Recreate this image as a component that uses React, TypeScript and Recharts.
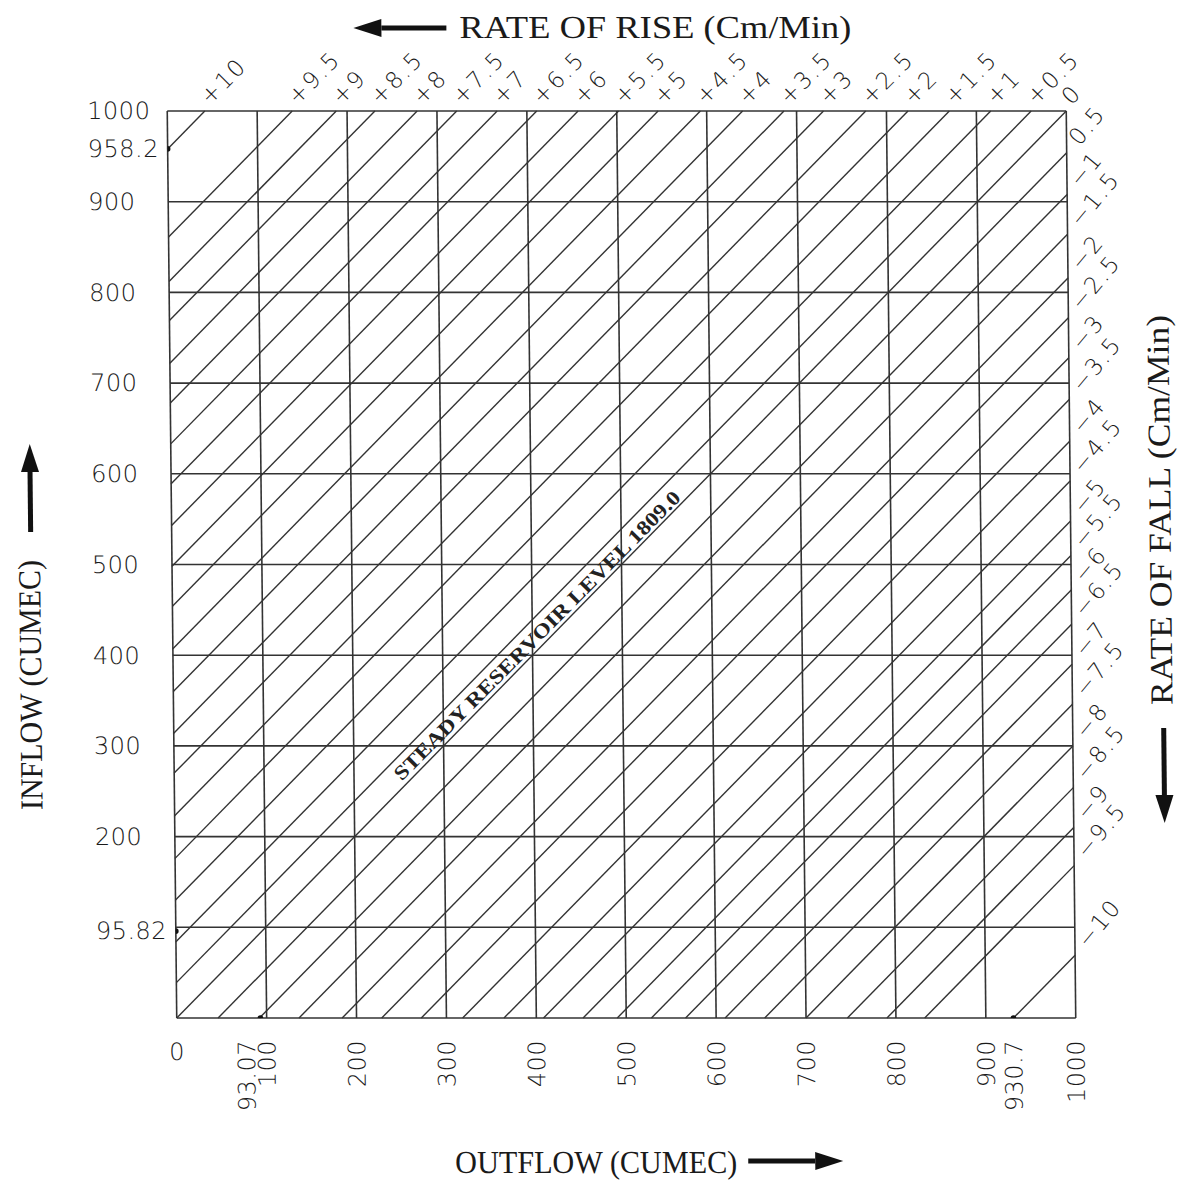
import React from 'react';
import {
  ComposedChart,
  XAxis,
  YAxis,
  ReferenceLine,
  ReferenceDot,
  Scatter,
  Customized,
} from 'recharts';

// ---- data ----
const xTicks = [0, 93.07, 100, 200, 300, 400, 500, 600, 700, 800, 900, 930.7, 1000];
const yTicks = [95.82, 200, 300, 400, 500, 600, 700, 800, 900, 958.2, 1000];
const gridValues = [0, 100, 200, 300, 400, 500, 600, 700, 800, 900, 1000];

// rate of rise lines: inflow - outflow = intercept (cumec)
const riseLabels = ['0', '+0.5', '+1', '+1.5', '+2', '+2.5', '+3', '+3.5', '+4', '+4.5', '+5', '+5.5', '+6', '+6.5', '+7', '+7.5', '+8', '+8.5', '+9', '+9.5', '+10'];
const riseIntercepts = [0, 39, 84, 130, 176, 223, 270, 314, 360, 407, 454, 498, 543, 589, 633, 678, 722, 769, 812, 861, 958.2];

// rate of fall lines: outflow - inflow = intercept (cumec)
const fallLabels = ['0.5', '\u22121', '\u22121.5', '\u22122', '\u22122.5', '\u22123', '\u22123.5', '\u22124', '\u22124.5', '\u22125', '\u22125.5', '\u22126', '\u22126.5', '\u22127', '\u22127.5', '\u22128', '\u22128.5', '\u22129', '\u22129.5', '\u221210'];
const fallIntercepts = [46, 92, 136, 184, 228, 272, 318, 364, 408, 452, 490, 528, 566, 610, 654, 700, 746, 790, 832, 930.7];

const markedPoints = [
  { x: 0, y: 958.2 },
  { x: 0, y: 95.82 },
  { x: 93.07, y: 0 },
  { x: 930.7, y: 0 },
];

const steadyLabel = 'STEADY RESERVOIR LEVEL 1809.0';
const steadyAt = { x: 405, y: 422 };

// ---- styles ----
const INK = '#333';
const numFont: React.CSSProperties = {
  fontFamily: '"DejaVu Sans", sans-serif',
  fontSize: 24,
  fontWeight: 200,
  fill: '#1a1a1a',
  letterSpacing: 0.5,
};
const labelFont: React.CSSProperties = {
  fontFamily: '"DejaVu Sans", sans-serif',
  fontSize: 23,
  fontWeight: 200,
  fill: '#1a1a1a',
  letterSpacing: 2,
};
const titleFont: React.CSSProperties = {
  fontFamily: '"Liberation Serif", serif',
  fontSize: 32,
  fill: '#1a1a1a',
};

const XTick = (props: any) => {
  const { x, payload } = props;
  const v = payload.value;
  if (v === 0) {
    return (
      <text x={x} y={1052} dy="0.35em" textAnchor="middle" style={numFont}>
        0
      </text>
    );
  }
  const nudge = v === 93.07 ? -14 : 0;
  const px = x + nudge;
  const py = 1040;
  return (
    <text x={px} y={py} dy="0.35em" textAnchor="end" transform={`rotate(-90 ${px} ${py})`} style={numFont}>
      {String(v)}
    </text>
  );
};

const YTick = (props: any) => {
  const { y, payload } = props;
  return (
    <text x={92} y={y} dy="0.35em" textAnchor="start" style={numFont}>
      {String(payload.value)}
    </text>
  );
};

const riseLabelShape = (label: string) => (p: any) => {
  const x = p.cx + 5;
  const y = p.cy - 5;
  return (
    <text x={x} y={y} transform={`rotate(-45 ${x} ${y})`} style={labelFont}>
      {label}
    </text>
  );
};

const fallLabelShape = (label: string) => (p: any) => {
  const x = p.cx + 13;
  const y = p.cy - 6;
  return (
    <text x={x} y={y} transform={`rotate(-50 ${x} ${y})`} style={labelFont}>
      {label}
    </text>
  );
};

const steadyShape = (p: any) => (
  <text
    x={p.cx}
    y={p.cy}
    textAnchor="middle"
    dy="0.35em"
    transform={`rotate(-45 ${p.cx} ${p.cy})`}
    textLength={400}
    lengthAdjust="spacingAndGlyphs"
    style={{ fontFamily: '"Liberation Serif", serif', fontSize: 20, fill: '#222', fontWeight: 600 }}
  >
    {steadyLabel}
  </text>
);

const dotShape = (p: any) => <circle cx={p.cx} cy={p.cy} r={2.8} fill="#111" />;

const Arrow = ({ x1, y1, x2, y2 }: { x1: number; y1: number; x2: number; y2: number }) => {
  const dx = x2 - x1;
  const dy = y2 - y1;
  const len = Math.sqrt(dx * dx + dy * dy);
  const ux = dx / len;
  const uy = dy / len;
  const head = 28;
  const half = 9;
  const bx = x2 - ux * head;
  const by = y2 - uy * head;
  const px = -uy;
  const py = ux;
  return (
    <g>
      <line x1={x1} y1={y1} x2={bx} y2={by} stroke="#111" strokeWidth={5} />
      <polygon
        points={`${x2},${y2} ${bx + px * half},${by + py * half} ${bx - px * half},${by - py * half}`}
        fill="#111"
      />
    </g>
  );
};

const Titles = () => (
  <g>
    <Arrow x1={452} y1={28} x2={359} y2={28} />
    <text x={465} y={38} textLength={392} lengthAdjust="spacingAndGlyphs" style={titleFont}>
      RATE  OF  RISE  (Cm/Min)
    </text>
    <text x={449} y={1173} textLength={282} lengthAdjust="spacingAndGlyphs" style={titleFont}>
      OUTFLOW  (CUMEC)
    </text>
    <Arrow x1={742} y1={1161} x2={837} y2={1161} />
    <text x={40} y={810} transform="rotate(-90 40 810)" textLength={250} lengthAdjust="spacingAndGlyphs" style={titleFont}>
      INFLOW  (CUMEC)
    </text>
    <Arrow x1={31} y1={532} x2={31} y2={444} />
    <text x={1171} y={705} transform="rotate(-90 1171 705)" textLength={390} lengthAdjust="spacingAndGlyphs" style={titleFont}>
      RATE  OF  FALL  (Cm/Min)
    </text>
    <Arrow x1={1162} y1={728} x2={1162} y2={823} />
  </g>
);

export default function App() {
  return (
    <div
      style={{
        position: 'absolute',
        left: 0,
        top: 0,
        width: 1180,
        height: 1180,
        background: '#fff',
        transform: 'skewX(0.6deg)',
        transformOrigin: '590px 565px',
      }}
    >
      <ComposedChart
        width={1180}
        height={1180}
        data={markedPoints}
        margin={{ top: 111, right: 109, bottom: 62, left: 92 }}
      >
        <XAxis
          type="number"
          dataKey="x"
          domain={[0, 1000]}
          ticks={xTicks}
          interval={0}
          tick={XTick}
          axisLine={false}
          tickLine={false}
          height={100}
          allowDataOverflow
        />
        <YAxis
          type="number"
          dataKey="y"
          domain={[0, 1000]}
          ticks={yTicks}
          interval={0}
          tick={YTick}
          axisLine={false}
          tickLine={false}
          width={80}
          allowDataOverflow
        />
        {gridValues.map((v) => (
          <ReferenceLine key={'gx' + v} x={v} stroke={INK} strokeWidth={1.6} ifOverflow="visible" />
        ))}
        {gridValues.map((v) => (
          <ReferenceLine key={'gy' + v} y={v} stroke={INK} strokeWidth={1.6} ifOverflow="visible" />
        ))}
        {riseIntercepts.map((c, i) => (
          <ReferenceLine
            key={'r' + i}
            segment={[
              { x: 0, y: c },
              { x: 1000 - c, y: 1000 },
            ]}
            stroke={INK}
            strokeWidth={1.4}
            ifOverflow="visible"
          />
        ))}
        {fallIntercepts.map((d, i) => (
          <ReferenceLine
            key={'f' + i}
            segment={[
              { x: d, y: 0 },
              { x: 1000, y: 1000 - d },
            ]}
            stroke={INK}
            strokeWidth={1.4}
            ifOverflow="visible"
          />
        ))}
        <Scatter data={markedPoints} dataKey="y" shape={dotShape} isAnimationActive={false} />
        {riseIntercepts.map((c, i) => (
          <ReferenceDot
            key={'rl' + i}
            x={1000 - c}
            y={1000}
            r={1}
            ifOverflow="visible"
            shape={riseLabelShape(riseLabels[i])}
          />
        ))}
        {fallIntercepts.map((d, i) => (
          <ReferenceDot
            key={'fl' + i}
            x={1000}
            y={1000 - d}
            r={1}
            ifOverflow="visible"
            shape={fallLabelShape(fallLabels[i])}
          />
        ))}
        <ReferenceDot x={steadyAt.x} y={steadyAt.y} r={1} ifOverflow="visible" shape={steadyShape} />
        <Customized component={Titles} />
      </ComposedChart>
    </div>
  );
}
